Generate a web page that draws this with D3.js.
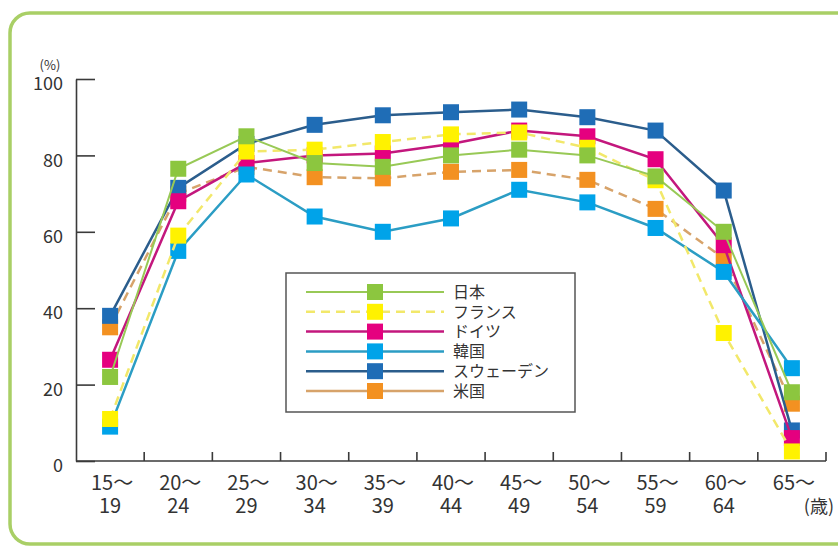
<!DOCTYPE html>
<html>
<head>
<meta charset="utf-8">
<script src="https://cdn.jsdelivr.net/npm/d3@7"></script>
<style>
  html, body { margin: 0; padding: 0; background: #fff; }
  svg { display: block; font-family: "Noto Sans CJK JP", "Noto Sans", sans-serif; }
</style>
</head>
<body>
<svg id="chart" width="838" height="547"></svg>
<script>
// Age groups (line 1 / line 2 of each axis label)
const ageGroups = ["15～19", "20～24", "25～29", "30～34", "35～39", "40～44", "45～49", "50～54", "55～59", "60～64", "65～"];
const ageTop    = ["15～", "20～", "25～", "30～", "35～", "40～", "45～", "50～", "55～", "60～", "65～"];
const ageBottom = ["19", "24", "29", "34", "39", "44", "49", "54", "59", "64", "(歳)"];

// Labour force participation rate of women (%) by age group
const japan   = [22, 76.5, 85, 78, 77, 80, 81.5, 80, 74.5, 60, 18];
const france  = [11, 59, 81, 81.5, 83.5, 85.5, 86, 82, 73.5, 33.5, 2.5];
const germany = [26.5, 68, 78, 80, 80.5, 83, 86.5, 85, 79, 56.5, 6];
const korea   = [9, 55, 75, 64, 60, 63.5, 71, 67.7, 61, 49.5, 24.3];
const sweden  = [38, 71.5, 83, 88, 90.5, 91.3, 92, 90, 86.5, 70.8, 8];
const usa     = [35, 70, 77, 74.3, 74, 75.7, 76.2, 73.6, 66, 53, 15];

const yTicks = [0, 20, 40, 60, 80, 100];

// Legend order (top to bottom)
const series = [
  { name: "日本",         values: japan,   marker: "#8cc63f", line: "#98c956", width: 2,   dash: null,  legendDash: null },
  { name: "フランス",     values: france,  marker: "#fff200", line: "#f2e86a", width: 2.5, dash: "9,6", legendDash: "9,6" },
  { name: "ドイツ",       values: germany, marker: "#e5007f", line: "#c3177d", width: 2.5, dash: null,  legendDash: null },
  { name: "韓国",         values: korea,   marker: "#00a3e9", line: "#2b9dc4", width: 2.5, dash: null,  legendDash: null },
  { name: "スウェーデン", values: sweden,  marker: "#1f6db6", line: "#2b5d8c", width: 2.5, dash: null,  legendDash: null },
  { name: "米国",         values: usa,     marker: "#f39121", line: "#d7a36a", width: 2.5, dash: "9,6", legendDash: null }
];
// Paint order of the series (later ones sit on top)
const paintOrder = ["米国", "スウェーデン", "ドイツ", "韓国", "フランス", "日本"];

const svg = d3.select("#chart");

// Rounded green frame
svg.append("rect")
  .attr("x", 10).attr("y", 13)
  .attr("width", 850).attr("height", 531)
  .attr("rx", 20).attr("ry", 20)
  .attr("fill", "#fff")
  .attr("stroke", "#a9cf66")
  .attr("stroke-width", 3.5);

const x = d3.scaleBand().domain(ageGroups).range([76, 826]).padding(0);
const y = d3.scaleLinear().domain([0, 100]).range([461, 79]);
const cx = d => x(d) + x.bandwidth() / 2;

// Y axis with inward ticks
const yAxis = d3.axisLeft(y)
  .tickValues(yTicks)
  .tickSizeInner(-19)
  .tickSizeOuter(0)
  .tickPadding(13)
  .tickFormat(d3.format("d"));

const gy = svg.append("g")
  .attr("transform", `translate(${x.range()[0]},0)`)
  .call(yAxis);
gy.select(".domain").attr("stroke", "#3a3a3a").attr("stroke-width", 1.6);
gy.selectAll(".tick line").attr("stroke", "#3a3a3a").attr("stroke-width", 1.6);
gy.selectAll(".tick text")
  .attr("font-size", 18)
  .attr("fill", "#333")
  .attr("font-family", "'Noto Sans CJK JP', sans-serif")
  .attr("dy", "0.32em")
  .attr("transform", "translate(0,5)");

svg.append("text")
  .attr("x", 50).attr("y", 70)
  .attr("text-anchor", "middle")
  .attr("font-size", 13)
  .attr("fill", "#333")
  .text("(%)");

// X axis: baseline and inward ticks at group boundaries
svg.append("line")
  .attr("x1", x.range()[0]).attr("x2", x.range()[1])
  .attr("y1", y(0)).attr("y2", y(0))
  .attr("stroke", "#3a3a3a").attr("stroke-width", 1.6);

svg.append("g").selectAll("line")
  .data(ageGroups)
  .join("line")
  .attr("x1", d => x(d) + x.bandwidth())
  .attr("x2", d => x(d) + x.bandwidth())
  .attr("y1", y(0))
  .attr("y2", y(0) - 9)
  .attr("stroke", "#3a3a3a").attr("stroke-width", 1.6);

const xl = svg.append("g").attr("font-size", 20).attr("fill", "#333");
xl.selectAll("text.top")
  .data(ageGroups)
  .join("text")
  .attr("class", "top")
  .attr("x", d => cx(d) + 2)
  .attr("y", 490)
  .attr("text-anchor", "middle")
  .text((d, i) => ageTop[i]);
xl.selectAll("text.bottom")
  .data(ageGroups)
  .join("text")
  .attr("class", "bottom")
  .attr("x", (d, i) => i === ageGroups.length - 1 ? cx(d) + 27 : cx(d))
  .attr("y", 513)
  .attr("text-anchor", "middle")
  .attr("font-size", (d, i) => i === ageGroups.length - 1 ? 18 : 20)
  .text((d, i) => ageBottom[i]);

// Series lines and square markers
const line = d3.line()
  .x((v, i) => cx(ageGroups[i]))
  .y(v => y(v));

const M = 16;
paintOrder.forEach(name => {
  const s = series.find(d => d.name === name);
  const g = svg.append("g");
  g.append("path")
    .attr("d", line(s.values))
    .attr("fill", "none")
    .attr("stroke", s.line)
    .attr("stroke-width", s.width)
    .attr("stroke-dasharray", s.dash);
  g.selectAll("rect")
    .data(s.values)
    .join("rect")
    .attr("x", (v, i) => cx(ageGroups[i]) - M / 2)
    .attr("y", v => y(v) - M / 2)
    .attr("width", M).attr("height", M)
    .attr("fill", s.marker);
});

// Legend
const legend = svg.append("g");
legend.append("rect")
  .attr("x", 286).attr("y", 273)
  .attr("width", 289).attr("height", 139)
  .attr("fill", "#fff")
  .attr("stroke", "#555")
  .attr("stroke-width", 1.5);

const rowY = i => 292 + i * 19.8;
const items = legend.selectAll("g.item")
  .data(series)
  .join("g")
  .attr("class", "item")
  .attr("transform", (d, i) => `translate(0,${rowY(i)})`);
items.append("line")
  .attr("x1", 306).attr("x2", 444)
  .attr("y1", 0).attr("y2", 0)
  .attr("stroke", d => d.line)
  .attr("stroke-width", d => d.width)
  .attr("stroke-dasharray", d => d.legendDash);
items.append("rect")
  .attr("x", 375 - M / 2).attr("y", -M / 2)
  .attr("width", M).attr("height", M)
  .attr("fill", d => d.marker);
items.append("text")
  .attr("x", 453).attr("y", 0)
  .attr("dy", "0.36em")
  .attr("font-size", 16)
  .attr("fill", "#333")
  .text(d => d.name);
</script>
</body>
</html>
